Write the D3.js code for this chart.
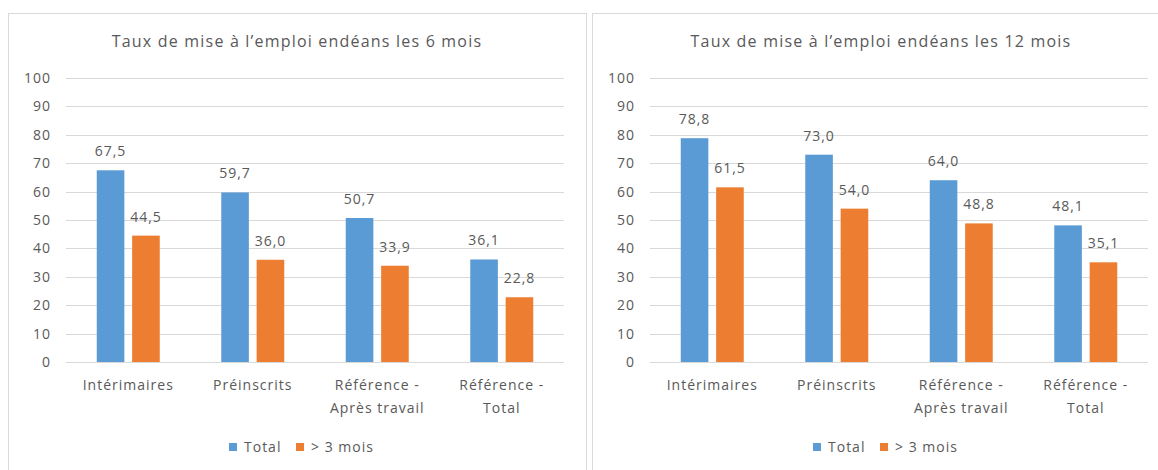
<!DOCTYPE html>
<html lang="fr">
<head>
  <meta charset="UTF-8">
  <title>Taux de mise à l’emploi</title>
  <script src="https://d3js.org/d3.v7.min.js"></script>
  <style>
    body {
      margin: 0;
      background-color: white;
      font-family: "Open Sans", sans-serif;
    }
    text {
      letter-spacing: 1px;
    }
  </style>
</head>
<body>
  <div id="chart"></div>
  <script>
    // data
    var categories = ["Intérimaires", "Préinscrits", "Référence - Après travail", "Référence - Total"];
    var categoryLines = [["Intérimaires"], ["Préinscrits"], ["Référence -", "Après travail"], ["Référence -", "Total"]];
    var seriesNames = ["Total", "> 3 mois"];
    var seriesColors = ["#5b9bd5", "#ed7d31"];
    var total6 = [67.5, 59.7, 50.7, 36.1];
    var over3_6 = [44.5, 36.0, 33.9, 22.8];
    var total12 = [78.8, 73.0, 64.0, 48.1];
    var over3_12 = [61.5, 54.0, 48.8, 35.1];
    var yTicks = [0, 10, 20, 30, 40, 50, 60, 70, 80, 90, 100];
    var titles = ["Taux de mise à l’emploi endéans les 6 mois", "Taux de mise à l’emploi endéans les 12 mois"];

    var width = 1158;
    var height = 470;
    var textColor = "#595959";
    var fmt = function (v) { return d3.format(".1f")(v).replace(".", ","); };

    var svg = d3.select("#chart")
      .append("svg")
      .attr("width", width)
      .attr("height", height);

    function drawPanel(left, title, totals, over3) {
      var g = svg.append("g").attr("transform", "translate(" + left + ",0)");
      var panelW = 578;

      // chart border
      g.append("rect")
        .attr("x", 0.5)
        .attr("y", 13.5)
        .attr("width", panelW)
        .attr("height", 480)
        .attr("fill", "white")
        .attr("stroke", "#d9d9d9");

      g.append("text")
        .attr("x", panelW / 2)
        .attr("y", 47)
        .attr("text-anchor", "middle")
        .attr("fill", textColor)
        .style("font-size", "16px")
        .style("letter-spacing", "1.2px")
        .text(title);

      const x0 = d3.scaleBand().domain(categories).range([58, 556]);
      const x1 = d3.scaleBand().domain(seriesNames).range([-31.5, 31.5]).paddingInner(0.22);
      const y = d3.scaleLinear().domain([0, 100]).range([362, 78]);

      // gridlines
      g.append("g")
        .selectAll("line")
        .data(yTicks)
        .join("line")
        .attr("x1", 58)
        .attr("x2", 556)
        .attr("y1", d => Math.round(y(d)) + 0.5)
        .attr("y2", d => Math.round(y(d)) + 0.5)
        .attr("stroke", "#d9d9d9")
        .attr("stroke-width", 1);

      // y axis labels
      var yAxis = d3.axisLeft(y).tickValues(yTicks).tickSize(0).tickPadding(15);
      var ya = g.append("g").attr("transform", "translate(58,0)").call(yAxis);
      ya.select(".domain").remove();
      ya.selectAll("text")
        .attr("fill", textColor)
        .style("font-size", "14px")
        .style("font-family", "'Open Sans', sans-serif");

      var seriesData = [totals, over3];
      seriesData.forEach(function (vals, s) {
        var name = seriesNames[s];
        g.append("g")
          .selectAll("rect")
          .data(vals)
          .join("rect")
          .attr("x", (d, i) => x0(categories[i]) + x0.bandwidth() / 2 + x1(name))
          .attr("y", d => y(d))
          .attr("width", x1.bandwidth())
          .attr("height", d => y(0) - y(d))
          .attr("fill", seriesColors[s]);

        g.append("g")
          .selectAll("text")
          .data(vals)
          .join("text")
          .attr("x", (d, i) => x0(categories[i]) + x0.bandwidth() / 2 + x1(name) + x1.bandwidth() / 2)
          .attr("y", d => y(d) - 14)
          .attr("text-anchor", "middle")
          .attr("fill", textColor)
          .style("font-size", "14px")
          .text(d => fmt(d));
      });

      // category labels
      categoryLines.forEach(function (lines, i) {
        var t = g.append("text")
          .attr("x", x0(categories[i]) + x0.bandwidth() / 2)
          .attr("y", 390)
          .attr("text-anchor", "middle")
          .attr("fill", textColor)
          .style("font-size", "14px");
        lines.forEach(function (ln, k) {
          t.append("tspan")
            .attr("x", x0(categories[i]) + x0.bandwidth() / 2)
            .attr("dy", k == 0 ? 0 : 23)
            .text(ln);
        });
      });

      // legend
      var leg = g.append("g").attr("transform", "translate(" + 221 + ",447)");
      var offsets = [0, 67];
      seriesNames.forEach(function (name, s) {
        leg.append("rect")
          .attr("x", offsets[s])
          .attr("y", -4)
          .attr("width", 8)
          .attr("height", 8)
          .attr("fill", seriesColors[s]);
        leg.append("text")
          .attr("x", offsets[s] + 15)
          .attr("y", 5)
          .attr("fill", textColor)
          .style("font-size", "14px")
          .text(name);
      });
    }

    drawPanel(8, titles[0], total6, over3_6);
    drawPanel(592, titles[1], total12, over3_12);
  </script>
</body>
</html>
